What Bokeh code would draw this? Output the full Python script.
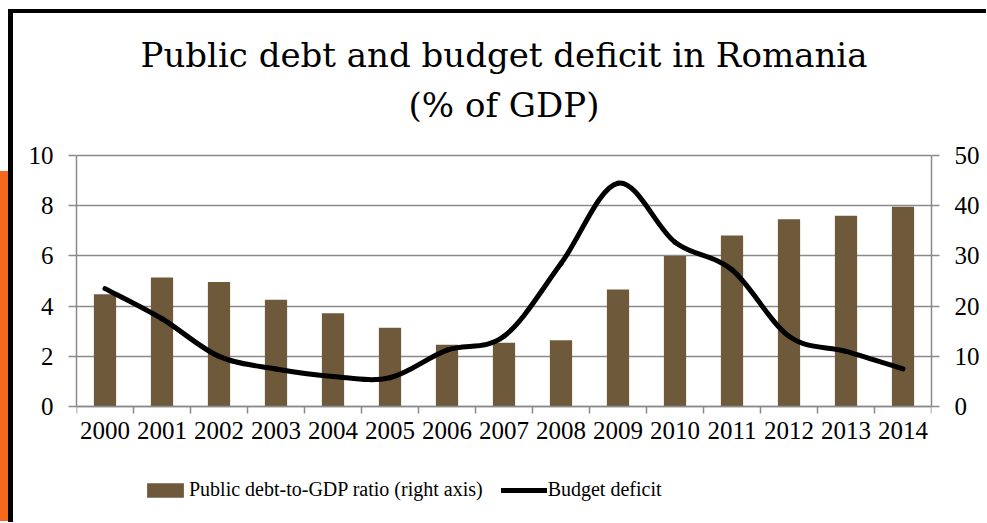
from bokeh.plotting import figure
from bokeh.models import (Range1d, LinearAxis, FixedTicker, Legend, LegendItem, Label,
                          CustomJSTickFormatter, ColumnDataSource, Div)
from bokeh.layouts import row
from bokeh.embed import file_html
from bokeh.resources import INLINE

# ---- data ----
years = ["2000", "2001", "2002", "2003", "2004", "2005", "2006", "2007",
         "2008", "2009", "2010", "2011", "2012", "2013", "2014"]
debt_ratio = [22.4, 25.7, 24.8, 21.3, 18.6, 15.7, 12.3, 12.7,
              13.2, 23.3, 30.0, 34.1, 37.3, 38.0, 39.8]      # right axis, % of GDP
budget_deficit = [4.7, 3.5, 2.0, 1.5, 1.2, 1.15, 2.25, 2.8,
                  5.7, 8.9, 6.55, 5.45, 2.8, 2.2, 1.5]       # left axis, % of GDP
left_ticks = [0, 2, 4, 6, 8, 10]
right_ticks = [0, 10, 20, 30, 40, 50]
title_lines = ["Public debt and budget deficit in Romania", "(% of GDP)"]

SERIF = "Liberation Serif"
GRID = "#8a8a8a"
BAR = "#6e5a3b"

n = len(years)
xs = [i + 0.5 for i in range(n)]

# layout (pixels): the frame spans the full canvas height so that the title and
# legend (drawn inside it) are not clipped; value axes are limited by bounds.
FRAME_H = 509
PX_PER_UNIT = 24.9          # 10 units of the left axis = 249 px
ZERO_FROM_BOTTOM = 119      # y = 0 sits 119 px above the canvas bottom
y_lo = -ZERO_FROM_BOTTOM / PX_PER_UNIT
y_hi = y_lo + FRAME_H / PX_PER_UNIT

p = figure(frame_width=850, frame_height=FRAME_H,
           min_border_left=63, min_border_right=60,
           min_border_top=0, min_border_bottom=0,
           x_range=Range1d(0, n), y_range=Range1d(y_lo, y_hi),
           output_backend="svg", toolbar_location=None, tools="", title=None)
p.margin = (9, 0, 0, 0)
p.styles = {"border-top": "4px solid black", "border-left": "5px solid black"}
p.background_fill_color = "white"
p.border_fill_color = "white"
p.outline_line_color = None

p.extra_y_ranges = {"right": Range1d(y_lo * 5, y_hi * 5)}

# bars (right axis)
bars = p.vbar(x=xs, top=debt_ratio, width=0.39, bottom=0, y_range_name="right",
              fill_color=BAR, line_color=None)

# smoothed line (Catmull-Rom style Bezier through the data points)
pts = list(zip(xs, budget_deficit))
x0, y0, x1, y1, cx0, cy0, cx1, cy1 = [], [], [], [], [], [], [], []
for i in range(n - 1):
    pa = pts[i - 1] if i > 0 else pts[i]
    pb = pts[i]
    pc = pts[i + 1]
    pd = pts[i + 2] if i + 2 < n else pts[i + 1]
    x0.append(pb[0]); y0.append(pb[1])
    x1.append(pc[0]); y1.append(pc[1])
    cx0.append(pb[0] + (pc[0] - pa[0]) / 6.0); cy0.append(pb[1] + (pc[1] - pa[1]) / 6.0)
    cx1.append(pc[0] - (pd[0] - pb[0]) / 6.0); cy1.append(pc[1] - (pd[1] - pb[1]) / 6.0)
src = ColumnDataSource(dict(x0=x0, y0=y0, x1=x1, y1=y1, cx0=cx0, cy0=cy0, cx1=cx1, cy1=cy1))
curve = p.bezier(x0="x0", y0="y0", x1="x1", y1="y1", cx0="cx0", cy0="cy0", cx1="cx1", cy1="cy1",
                 source=src, line_color="black", line_width=5, line_cap="round")

# x axis at y = 0: labels at centres, ticks at boundaries
xa = p.xaxis[0]
xa.fixed_location = 0
xa.ticker = FixedTicker(ticks=xs, minor_ticks=list(range(n + 1)))
xa.formatter = CustomJSTickFormatter(args=dict(labels=years),
                                     code="return labels[Math.floor(tick)] || '';")
xa.major_tick_out = 0
xa.major_tick_in = 0
xa.minor_tick_out = 7
xa.minor_tick_in = 0
xa.minor_tick_line_color = GRID
xa.minor_tick_line_width = 1.5
xa.axis_line_color = GRID
xa.axis_line_width = 1.5
xa.major_label_text_font = SERIF
xa.major_label_text_font_size = "25px"
xa.major_label_text_color = "black"
xa.major_label_standoff = 8

ya = p.yaxis[0]
ya.ticker = FixedTicker(ticks=left_ticks)
ya.bounds = (0, 10)
yr = LinearAxis(y_range_name="right", ticker=FixedTicker(ticks=right_ticks), bounds=(0, 50))
p.add_layout(yr, "right")
for ax in (ya, yr):
    ax.minor_tick_line_color = None
    ax.major_tick_out = 8
    ax.major_tick_in = 0
    ax.major_tick_line_color = GRID
    ax.major_tick_line_width = 1.5
    ax.axis_line_color = GRID
    ax.axis_line_width = 1.5
    ax.major_label_text_font = SERIF
    ax.major_label_text_font_size = "25px"
    ax.major_label_text_color = "black"
    ax.major_label_standoff = 15

p.xgrid.grid_line_color = None
p.ygrid.ticker = FixedTicker(ticks=left_ticks)
p.ygrid.grid_line_color = GRID
p.ygrid.grid_line_width = 1.5

# two-line title, centred over the plot (screen y measured up from the frame bottom)
for txt, sy in zip(title_lines, [472, 422]):
    p.add_layout(Label(x=n / 2, y=sy, x_units="data", y_units="screen", text=txt,
                       text_align="center", text_baseline="alphabetic",
                       text_font="DejaVu Serif", text_font_size="34px", text_color="black"))

legend = Legend(items=[LegendItem(label="Public debt-to-GDP ratio (right axis)", renderers=[bars]),
                       LegendItem(label="Budget deficit", renderers=[curve])],
                orientation="horizontal", location=(66, 25),
                border_line_color=None, background_fill_alpha=0,
                padding=0, margin=0, spacing=18,
                glyph_width=46, glyph_height=18, label_standoff=1,
                label_text_font=SERIF, label_text_font_size="20px",
                label_text_color="black")
p.add_layout(legend, "center")

strip = Div(text="", width=8, height=350, margin=(171, 0, 0, 0),
            styles={"background-color": "#f4691e"})

layout = row(strip, p, spacing=0)

open("out.html", "w").write(file_html(layout, INLINE))
